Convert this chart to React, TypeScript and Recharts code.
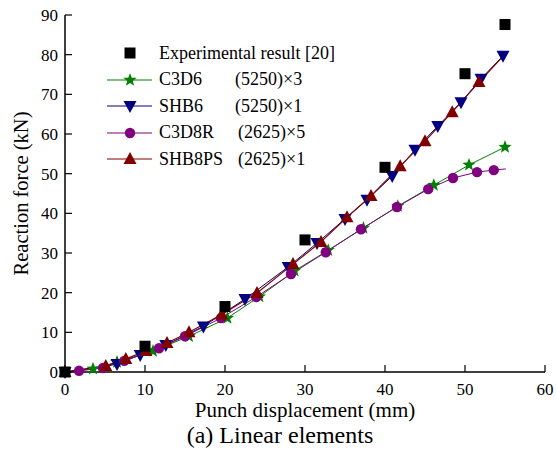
import { LineChart, Line, XAxis, YAxis, Legend, Label } from "recharts";

// values (mm, kN)
const expX = [0, 10, 20, 30, 40, 50, 55];
const expY = [0, 6.5, 16.5, 33.3, 51.6, 75.2, 87.6];

const c3d6X = [0, 3.5, 6.5, 11, 15.5, 20.3, 24.3, 28.7, 32.9, 37.3, 41.6, 46.1, 50.5, 55];
const c3d6Y = [0, 0.8, 2.5, 5.3, 9.0, 13.6, 19.0, 25.5, 30.7, 36.3, 41.8, 47.1, 52.2, 56.7];

const shb6X = [0, 6.5, 9.4, 12.6, 17.3, 22.5, 27.9, 31.5, 35, 37.75, 40.9, 43.75, 46.6, 49.5, 52, 54.75];
const shb6Y = [0, 2.0, 4.3, 6.8, 11.5, 18.4, 26.5, 32.5, 38.6, 43.4, 49.4, 56, 62, 68, 73.9, 79.7];

const c3d8rX = [0, 1.75, 4.75, 7.4, 11.75, 15, 19.5, 23.9, 28.25, 32.6, 37, 41.5, 45.4, 48.5, 51.5, 53.6, 55.1];
const c3d8rY = [0, 0.3, 1.0, 2.8, 6.0, 9.0, 13.6, 18.9, 24.7, 30.2, 36.0, 41.6, 46.1, 48.9, 50.4, 50.9, 51.2];

const shb8psX = [0, 5.1, 7.6, 10.1, 12.75, 15.5, 19.6, 24, 28.5, 32, 35.25, 38.25, 41.9, 45, 48.4, 51.75, 54.75];
const shb8psY = [0, 1.5, 3.3, 5.3, 7.3, 10.0, 14.5, 19.9, 27.2, 32.8, 39.0, 44.4, 51.9, 58.2, 65.5, 73.1, 79.6];

const xMajor = [0, 10, 20, 30, 40, 50, 60];
const xMinor = [5, 15, 25, 35, 45, 55];
const yMajor = [0, 10, 20, 30, 40, 50, 60, 70, 80, 90];
const yMinor = [5, 15, 25, 35, 45, 55, 65, 75, 85];

const legendNames = ["Experimental result [20]", "C3D6", "SHB6", "C3D8R", "SHB8PS"];
const legendMesh = ["", "(5250)\u00d73", "(5250)\u00d71", "(2625)\u00d75", "(2625)\u00d71"];

const toRows = (xs: number[], ys: number[]) => xs.map((x, i) => ({ x, y: ys[i] }));

const FONT = '"Liberation Serif", "Times New Roman", serif';
const GREEN = "#008000";
const BLUE = "#000080";
const PURPLE = "#800080";
const RED = "#800000";

type Shape = "square" | "star" | "down" | "up" | "circle";

function Marker({ shape, cx, cy, color }: { shape: Shape; cx: number; cy: number; color: string }) {
  if (shape === "square") {
    return <rect x={cx - 5.5} y={cy - 5.5} width={11} height={11} fill={color} />;
  }
  if (shape === "circle") {
    return <circle cx={cx} cy={cy} r={5.2} fill={color} />;
  }
  if (shape === "down") {
    return <polygon points={`${cx - 6.5},${cy - 5} ${cx + 6.5},${cy - 5} ${cx},${cy + 7}`} fill={color} />;
  }
  if (shape === "up") {
    return <polygon points={`${cx},${cy - 7} ${cx - 6.5},${cy + 5} ${cx + 6.5},${cy + 5}`} fill={color} />;
  }
  // 5 point star
  const pts: string[] = [];
  for (let k = 0; k < 10; k++) {
    const r = k % 2 === 0 ? 7 : 2.9;
    const a = -Math.PI / 2 + (k * Math.PI) / 5;
    pts.push(`${cx + r * Math.cos(a)},${cy + r * Math.sin(a)}`);
  }
  return <polygon points={pts.join(" ")} fill={color} />;
}

const dotRenderer = (shape: Shape, color: string, skip: number[] = []) => (props: any) => {
  const { cx, cy, index } = props;
  if (cx == null || cy == null || skip.includes(index)) return <g key={`d-${shape}-${index}`} />;
  return (
    <g key={`d-${shape}-${index}`}>
      <Marker shape={shape} cx={cx} cy={cy} color={color} />
    </g>
  );
};

const legendShapes: Shape[] = ["square", "star", "down", "circle", "up"];
const legendColors = ["#000000", GREEN, BLUE, PURPLE, RED];

function ChartLegend() {
  return (
    <div style={{ fontFamily: FONT, fontSize: 18, color: "#000" }}>
      {legendNames.map((name, i) => (
        <div key={name} style={{ display: "flex", alignItems: "center", height: 26.5 }}>
          <svg width={48} height={20} style={{ marginRight: 5 }}>
            {i > 0 && <line x1={1} y1={10} x2={46} y2={10} stroke={legendColors[i]} strokeWidth={1.2} />}
            <Marker shape={legendShapes[i]} cx={24} cy={10} color={legendColors[i]} />
          </svg>
          <span style={{ display: "inline-block", width: i === 0 ? "auto" : i < 3 ? 76 : 79, whiteSpace: "nowrap" }}>
            {name}
          </span>
          {legendMesh[i] && <span style={{ whiteSpace: "nowrap" }}>{legendMesh[i]}</span>}
        </div>
      ))}
    </div>
  );
}

export default function App() {
  const tickStyle = { fill: "#000", fontSize: 17, fontFamily: FONT };
  const axisLine = { stroke: "#000", strokeWidth: 1.5 };
  const tickLine = { stroke: "#000", strokeWidth: 1.2 };

  return (
    <div style={{ position: "absolute", left: 0, top: 0, width: 556, height: 452, background: "#fff" }}>
      <LineChart width={556} height={452} margin={{ top: 15, right: 11, bottom: 50, left: 0 }}>
        {/* minor ticks first so they sit on the plot edge */}
        <XAxis xAxisId="xminor" type="number" dataKey="x" domain={[0, 60]} ticks={xMinor} height={0}
          tick={false} axisLine={false} tickLine={tickLine} tickSize={-3.5} />
        <XAxis xAxisId="main" type="number" dataKey="x" domain={[0, 60]} ticks={xMajor} height={30}
          tick={tickStyle} axisLine={axisLine} tickLine={tickLine} tickSize={-7} tickMargin={18}>
          <Label value="Punch displacement (mm)" position="bottom" offset={0}
            style={{ fill: "#000", fontSize: 21, fontFamily: FONT }} />
        </XAxis>
        <XAxis xAxisId="tminor" orientation="top" type="number" dataKey="x" domain={[0, 60]} ticks={xMinor}
          height={0} tick={false} axisLine={false} tickLine={tickLine} tickSize={-3.5} />
        <XAxis xAxisId="top" orientation="top" type="number" dataKey="x" domain={[0, 60]} ticks={xMajor}
          height={0} tick={false} axisLine={axisLine} tickLine={tickLine} tickSize={-7} />

        <YAxis yAxisId="yminor" type="number" domain={[0, 90]} ticks={yMinor} width={0}
          tick={false} axisLine={false} tickLine={tickLine} tickSize={-3.5} />
        <YAxis yAxisId="main" type="number" domain={[0, 90]} ticks={yMajor} width={65}
          tick={tickStyle} axisLine={axisLine} tickLine={tickLine} tickSize={-7} tickMargin={14}>
          <Label value="Reaction force (kN)" angle={-90} position="insideLeft" offset={21}
            style={{ fill: "#000", fontSize: 20.5, fontFamily: FONT, textAnchor: "middle" }} />
        </YAxis>
        <YAxis yAxisId="rminor" orientation="right" type="number" domain={[0, 90]} ticks={yMinor} width={0}
          tick={false} axisLine={false} tickLine={tickLine} tickSize={-3.5} />
        <YAxis yAxisId="right" orientation="right" type="number" domain={[0, 90]} ticks={yMajor} width={0}
          tick={false} axisLine={axisLine} tickLine={tickLine} tickSize={-7} />

        <Line xAxisId="main" yAxisId="main" data={toRows(c3d6X, c3d6Y)} dataKey="y" type="linear"
          stroke={GREEN} strokeWidth={1} dot={dotRenderer("star", GREEN, [0])} isAnimationActive={false} />
        <Line xAxisId="main" yAxisId="main" data={toRows(shb6X, shb6Y)} dataKey="y" type="linear"
          stroke={BLUE} strokeWidth={1} dot={dotRenderer("down", BLUE)} isAnimationActive={false} />
        <Line xAxisId="main" yAxisId="main" data={toRows(c3d8rX, c3d8rY)} dataKey="y" type="linear"
          stroke={PURPLE} strokeWidth={1} dot={dotRenderer("circle", PURPLE, [c3d8rX.length - 1])}
          isAnimationActive={false} />
        <Line xAxisId="main" yAxisId="main" data={toRows(shb8psX, shb8psY)} dataKey="y" type="linear"
          stroke={RED} strokeWidth={1.2} dot={dotRenderer("up", RED, [shb8psX.length - 1])}
          isAnimationActive={false} />
        <Line xAxisId="main" yAxisId="main" data={toRows(expX, expY)} dataKey="y" stroke="none"
          dot={dotRenderer("square", "#000")} isAnimationActive={false} />

        <Legend layout="vertical" align="center" verticalAlign="middle" content={() => <ChartLegend />}
          wrapperStyle={{ left: 106, top: 40, width: 280, height: "auto" }} />
      </LineChart>
      <div style={{ position: "absolute", left: 0, width: 560, top: 422, textAlign: "center", fontFamily: FONT,
        fontSize: 24, color: "#000" }}>
        (a) Linear elements
      </div>
    </div>
  );
}
